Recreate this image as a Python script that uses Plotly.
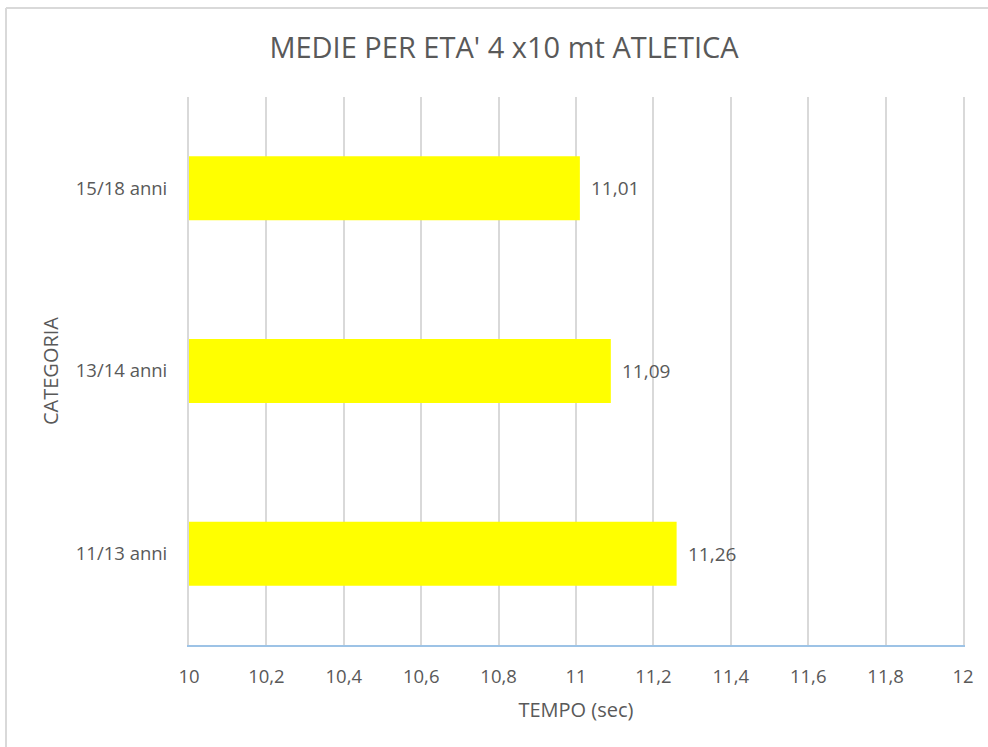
import plotly.graph_objects as go

categories = ["11/13 anni", "13/14 anni", "15/18 anni"]
values = [11.26, 11.09, 11.01]
value_labels = ["11,26", "11,09", "11,01"]
tick_vals = [10, 10.2, 10.4, 10.6, 10.8, 11, 11.2, 11.4, 11.6, 11.8, 12]
tick_text = ["10", "10,2", "10,4", "10,6", "10,8", "11", "11,2", "11,4", "11,6", "11,8", "12"]

FONT = "Open Sans"
GRAY = "#595959"

W, H = 988, 747
L, R, T, B = 189, 25, 97, 102
pw, ph = W - L - R, H - T - B

fig = go.Figure(go.Bar(
    x=values, y=categories, orientation="h",
    marker=dict(color="#FFFF00", line=dict(width=0)),
    width=0.35,
))

for v, c, lab in zip(values, categories, value_labels):
    fig.add_annotation(x=v, y=c, text=lab, showarrow=False, xanchor="left",
                       xshift=9, font=dict(family=FONT, size=19, color=GRAY))

fig.update_layout(
    width=W, height=H,
    margin=dict(l=L, r=R, t=T, b=B),
    paper_bgcolor="white", plot_bgcolor="white",
    title=dict(text="MEDIE PER ETA' 4 x10 mt ATLETICA", x=(W/2 + 10)/W, xanchor="center",
               y=1 - 48/H, yanchor="middle",
               font=dict(family=FONT, size=29, color=GRAY)),
    showlegend=False,
    xaxis=dict(range=[10, 12], tickvals=tick_vals, ticktext=tick_text,
               showgrid=True, gridcolor="#D9D9D9", gridwidth=2,
               showline=True, linecolor="#9DC3E6", linewidth=1.5,
               zeroline=False, ticks="", ticklen=0, ticklabelstandoff=14,
               tickfont=dict(family=FONT, size=18.5, color=GRAY),
               title=dict(text="TEMPO (sec)", standoff=16,
                          font=dict(family=FONT, size=20, color=GRAY))),
    yaxis=dict(showgrid=False, showline=True, linecolor="#D9D9D9", linewidth=2,
               mirror=True, zeroline=False, ticks="", ticklabelstandoff=16,
               tickfont=dict(family=FONT, size=18.5, color=GRAY),
               title=dict(text="CATEGORIA", standoff=12,
                          font=dict(family=FONT, size=20, color=GRAY))),
)

# chart border (top and left edges visible)
fig.add_shape(type="line", xref="paper", yref="paper",
              x0=(6 - L)/pw, x1=1.2, y0=1 + (T - 8)/ph, y1=1 + (T - 8)/ph,
              line=dict(color="#D9D9D9", width=2), layer="below")
fig.add_shape(type="line", xref="paper", yref="paper",
              x0=(6 - L)/pw, x1=(6 - L)/pw, y0=1 + (T - 8)/ph, y1=-0.3,
              line=dict(color="#D9D9D9", width=2), layer="below")

fig.write_html("out.html")
